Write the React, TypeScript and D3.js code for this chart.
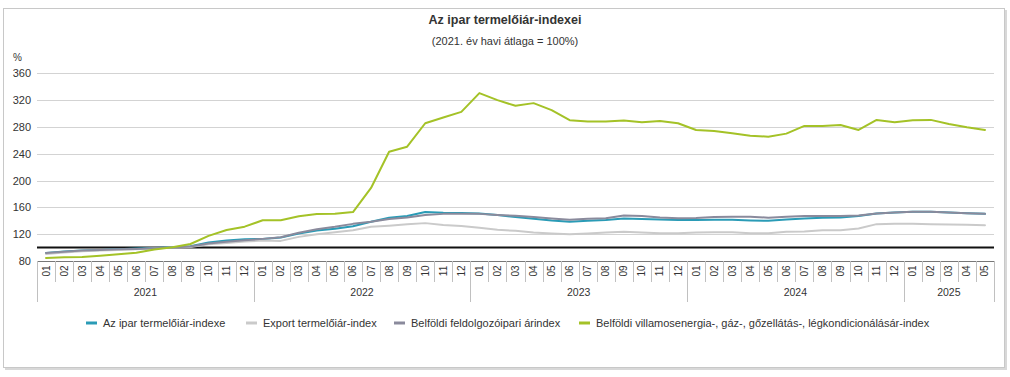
import React from "react";
import * as d3 from "d3";

const years = ["2021", "2022", "2023", "2024", "2025"];
const monthsPerYear = [12, 12, 12, 12, 5];
const monthLabels: string[] = [];
const monthYear: string[] = [];
years.forEach((y, yi) => {
  for (let m = 1; m <= monthsPerYear[yi]; m++) {
    monthLabels.push(String(m).padStart(2, "0"));
    monthYear.push(y);
  }
});

const yTicks = [80, 120, 160, 200, 240, 280, 320, 360];

const seriesNames = [
  "Az ipar termelőiár-indexe",
  "Export termelőiár-index",
  "Belföldi feldolgozóipari árindex",
  "Belföldi villamosenergia-, gáz-, gőzellátás-, légkondicionálásár-index",
];

const iparIndex = [
  92, 94, 95.5, 96.5, 97.5, 98.5, 99.5, 100.5, 102, 107.5, 110.5, 112.5,
  113, 115, 121, 125.5, 128, 131.8, 138.5, 144.6, 147.2, 153, 151.8, 151.5,
  151, 148.7, 145.6, 143, 140.5, 138.7, 140, 141, 143.5, 142.8, 142, 141,
  141, 141.5, 141.5, 140.5, 140, 142, 143.5, 144.5, 145, 147, 151, 152.5,
  153.3, 153.3, 152.3, 151.3, 150.3,
];

const exportIndex = [
  90.5, 92.5, 94.5, 95.5, 96.5, 97.5, 98.5, 100, 101, 105, 107, 109,
  110.5, 110, 116, 120, 123, 126, 131, 132.7, 134.7, 136.5, 133.8, 132.3,
  129.7, 126.5, 125, 122.5, 121, 120, 121, 122.5, 123.5, 122.5, 121.5, 121.5,
  122.5, 123, 123, 121.5, 121.5, 123.5, 124, 126, 126, 128.5, 135, 135.5,
  135.5, 135, 134.5, 134, 133.3,
];

const feldolgozoIndex = [
  92, 93.8, 95.7, 96.5, 97.4, 98, 99, 100, 101.5, 106, 108.7, 110.8,
  113, 115.5, 122, 127.5, 131, 135.4, 138.5, 142.5, 145, 148.7, 150.3, 150.3,
  150.3, 148.7, 147.5, 145.5, 143.5, 141.5, 143.2, 143.8, 147.8, 147.2, 145, 143.6,
  144, 145.6, 146, 146, 144.6, 146, 147, 147, 147, 148, 151, 152.3,
  153.3, 153.3, 152.3, 151.3, 150.3,
];

const villamosIndex = [
  84.5, 85.5, 86, 88, 90, 92.4, 97, 100.4, 105.4, 117.5, 126.3, 131.2,
  140.7, 140.7, 146.7, 150.1, 150.5, 153, 189, 243, 250.5, 285.5, 294, 302.5,
  330.5, 320, 311.5, 315.5, 305, 290, 288, 288, 289.5, 287, 289, 285.5,
  275.5, 274, 270.5, 267, 265.5, 270, 281.5, 281.5, 283, 275.5, 290.5, 287,
  290, 290.5, 284.5, 279.5, 275.5,
];

const seriesData = [iparIndex, exportIndex, feldolgozoIndex, villamosIndex];
const seriesColors = ["#2a9bb6", "#cacaca", "#8a8a9c", "#a4c227"];
const legendX = [86, 246, 394, 579];

const FONT = "'Liberation Sans', Arial, Helvetica, sans-serif";

export default function App() {
  const left = 37;
  const right = 994;
  const x = d3
    .scaleBand<number>()
    .domain(d3.range(monthLabels.length))
    .range([left, right])
    .paddingInner(0)
    .paddingOuter(0);
  const y = d3.scaleLinear().domain([80, 360]).range([261, 73.3]);
  const cx = (i: number) => (x(i) as number) + x.bandwidth() / 2;

  const line = d3
    .line<number>()
    .x((_, i) => cx(i))
    .y((v) => y(v));

  const axisY = y(80);
  const bw = x.bandwidth();

  const groups: { year: string; start: number; end: number }[] = [];
  monthYear.forEach((yr, i) => {
    const g = groups[groups.length - 1];
    if (!g || g.year !== yr) groups.push({ year: yr, start: i, end: i });
    else g.end = i;
  });

  return (
    <svg
      width={1010}
      height={377}
      style={{ position: "absolute", left: 0, top: 0, fontFamily: FONT }}
    >
      <rect x={5} y={10} width={1002} height={360} fill="#d8d8d8" />
      <rect x={3.5} y={8.5} width={1001} height={359} fill="#fff" stroke="#c8c8c8" />

      <text x={505} y={24} textAnchor="middle" fontSize={12.5} fontWeight="bold" fill="#333">
        Az ipar termelőiár-indexei
      </text>
      <text x={505} y={45} textAnchor="middle" fontSize={11} fill="#333">
        (2021. év havi átlaga = 100%)
      </text>
      <text x={13} y={61} fontSize={10} fill="#333">
        %
      </text>

      {yTicks.map((t) => (
        <g key={t}>
          {t !== 80 && (
            <line x1={left} x2={right} y1={Math.round(y(t)) + 0.5} y2={Math.round(y(t)) + 0.5} stroke="#d3d3d3" strokeWidth={1} />
          )}
          <text x={31} y={y(t) + 4} textAnchor="end" fontSize={11} fill="#333">
            {t}
          </text>
        </g>
      ))}

      <line x1={left} x2={right} y1={y(100)} y2={y(100)} stroke="#111" strokeWidth={2} />

      <line x1={left} x2={right} y1={Math.round(axisY) + 0.5} y2={Math.round(axisY) + 0.5} stroke="#777" strokeWidth={1} />
      {monthLabels.map((lab, i) => {
        const isGroupStart = groups.some((g) => g.start === i);
        const xb = Math.round(x(i) as number) + 0.5;
        return (
          <g key={i}>
            <line x1={xb} x2={xb} y1={axisY} y2={isGroupStart ? 302 : 282} stroke="#c0c0c0" />
            <text
              transform={`translate(${cx(i) + 3.5},271) rotate(-90)`}
              textAnchor="middle"
              fontSize={10}
              fill="#333"
            >
              {lab}
            </text>
          </g>
        );
      })}
      <line x1={right + 0.5} x2={right + 0.5} y1={axisY} y2={302} stroke="#c0c0c0" />
      {groups.map((g) => (
        <text
          key={g.year}
          x={((x(g.start) as number) + (x(g.end) as number) + bw) / 2}
          y={296}
          textAnchor="middle"
          fontSize={10.5}
          fill="#333"
        >
          {g.year}
        </text>
      ))}

      {seriesData.map((d, si) => (
        <path
          key={si}
          d={line(d) || ""}
          fill="none"
          stroke={seriesColors[si]}
          strokeWidth={2}
          strokeLinejoin="round"
          strokeLinecap="round"
        />
      ))}

      {seriesNames.map((n, si) => (
        <g key={n}>
          <line x1={legendX[si]} x2={legendX[si] + 11} y1={323} y2={323} stroke={seriesColors[si]} strokeWidth={3} />
          <text x={legendX[si] + 17} y={327} fontSize={11} fill="#333">
            {n}
          </text>
        </g>
      ))}
    </svg>
  );
}
